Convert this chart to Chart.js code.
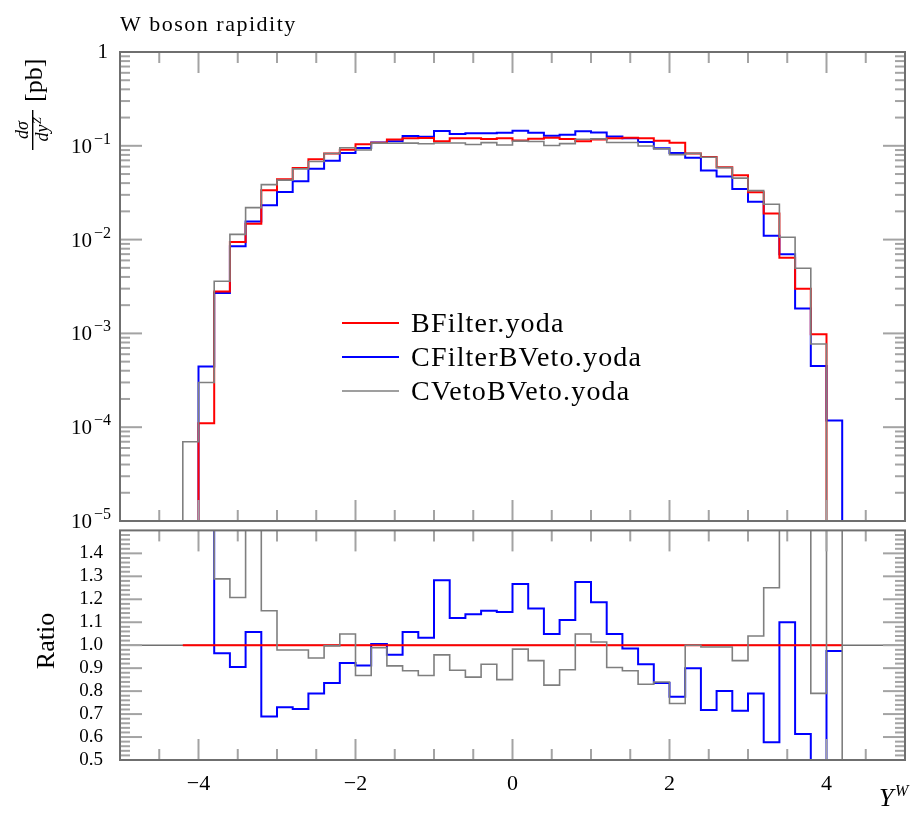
<!DOCTYPE html>
<html>
<head>
<meta charset="utf-8">
<script src="https://cdn.jsdelivr.net/npm/chart.js@4.4.0/dist/chart.umd.min.js"></script>
<style>
  html, body { margin: 0; padding: 0; background: #fff; }
  #wrap { position: relative; width: 912px; height: 814px; }
  #topBox { position: absolute; left: 0; top: 0; width: 912px; height: 535px; }
  #ratioBox { position: absolute; left: 0; top: 510px; width: 912px; height: 304px; }
</style>
</head>
<body>
<div id="wrap">
  <div id="topBox"><canvas id="topChart"></canvas></div>
  <div id="ratioBox"><canvas id="ratioChart"></canvas></div>
</div>
<script>
// ---- data (bins of 0.2 in rapidity) ----
const binEdges = [-4.4, -4.2, -4.0, -3.8, -3.6, -3.4, -3.2, -3.0, -2.8, -2.6, -2.4, -2.2, -2.0, -1.8, -1.6, -1.4,
  -1.2, -1.0, -0.8, -0.6, -0.4, -0.2, 0.0, 0.2, 0.4, 0.6, 0.8, 1.0, 1.2, 1.4, 1.6, 1.8, 2.0, 2.2, 2.4, 2.6,
  2.8, 3.0, 3.2, 3.4, 3.6, 3.8, 4.0, 4.2, 4.4];

const seriesNames = ['BFilter.yoda', 'CFilterBVeto.yoda', 'CVetoBVeto.yoda'];

// dsigma/dy [pb]
const bFilter = [0, 0, 1.1e-4, 2.8e-3, 9.4e-3, 0.0148, 0.0336, 0.044, 0.058, 0.072, 0.083, 0.091, 0.104, 0.108,
  0.117, 0.12, 0.121, 0.112, 0.12, 0.12, 0.118, 0.12, 0.114, 0.119, 0.122, 0.118, 0.112, 0.117, 0.12, 0.122,
  0.12, 0.113, 0.108, 0.083, 0.076, 0.059, 0.0485, 0.032, 0.019, 0.0064, 0.0030, 9.8e-4, 0, 0];
const cFilterBVeto = [0, 0, 4.45e-4, 2.7e-3, 8.5e-3, 0.0156, 0.0232, 0.0321, 0.0419, 0.0569, 0.0693, 0.0839,
  0.0948, 0.1085, 0.112, 0.127, 0.125, 0.1437, 0.134, 0.136, 0.1357, 0.1374, 0.1444, 0.138, 0.128, 0.131,
  0.1428, 0.1389, 0.1259, 0.1203, 0.110, 0.0944, 0.0837, 0.0747, 0.0546, 0.0472, 0.0346, 0.0253, 0.011,
  0.0070, 0.00184, 4.5e-4, 1.18e-4, 0];
const cVetoBVeto = [0, 7.0e-5, 3.0e-4, 3.6e-3, 0.01136, 0.0219, 0.0386, 0.0431, 0.0568, 0.068, 0.0828, 0.0955,
  0.0903, 0.1068, 0.1065, 0.1067, 0.105, 0.1073, 0.107, 0.1033, 0.1082, 0.102, 0.1121, 0.111, 0.1008, 0.1054,
  0.1175, 0.1186, 0.1084, 0.1085, 0.0996, 0.0927, 0.0806, 0.083, 0.0754, 0.0585, 0.0452, 0.0333, 0.0238,
  0.0106, 0.00495, 7.7e-4, 0, 0];

// ratio to BFilter
const ratioBFilter = [null, 1, 1, 1, 1, 1, 1, 1, 1, 1, 1, 1, 1, 1, 1, 1, 1, 1, 1, 1, 1, 1, 1, 1, 1, 1, 1, 1,
  1, 1, 1, 1, 1, 1, 1, 1, 1, 1, 1, 1, 1, 1, 1, null];
const ratioCFilterBVeto = [null, null, 4.0, 0.965, 0.905, 1.058, 0.69, 0.73, 0.722, 0.79, 0.835, 0.922, 0.912,
  1.005, 0.958, 1.058, 1.032, 1.283, 1.118, 1.135, 1.15, 1.145, 1.267, 1.16, 1.049, 1.11, 1.275, 1.187, 1.049,
  0.986, 0.917, 0.835, 0.775, 0.9, 0.718, 0.8, 0.714, 0.79, 0.577, 1.1, 0.613, 0.46, 0.975, null];
const ratioCVetoBVeto = [null, null, 2.7, 1.289, 1.208, 1.55, 1.15, 0.979, 0.979, 0.944, 0.997, 1.049, 0.868,
  0.989, 0.91, 0.889, 0.868, 0.958, 0.891, 0.861, 0.917, 0.85, 0.983, 0.933, 0.826, 0.893, 1.049, 1.014, 0.903,
  0.889, 0.83, 0.84, 0.746, 1.0, 0.992, 0.992, 0.933, 1.04, 1.25, 1.65, 1.65, 0.79, 2.0, 0];

const xTicks = [-4, -2, 0, 2, 4];
const logTicks = [1e-5, 1e-4, 1e-3, 1e-2, 1e-1, 1];
const ratioTicks = [0.5, 0.6, 0.7, 0.8, 0.9, 1.0, 1.1, 1.2, 1.3, 1.4];

// ---- styling ----
const SERIF = '"Liberation Serif", "DejaVu Serif", serif';
const lineColors = ['#ff0000', '#0000ff', '#7f7f7f'];
const lineWidths = [2, 2, 1.6];
const drawOrder = [2, 3, 1]; // gray on top, blue below red
const LOG_FLOOR = 1e-9;

// histogram -> step points (horizontal first, then vertical at next edge)
function histPoints(values, floor) {
  const pts = [];
  values.forEach((v, i) => {
    if (v === null) return;
    const y = (floor !== undefined && v <= 0) ? floor : v;
    pts.push({ x: binEdges[i], y: y });
    if (i === values.length - 1 || values[i + 1] === null) {
      pts.push({ x: binEdges[i + 1], y: y });
      pts.push({ x: binEdges[i + 1], y: null });
    }
  });
  return pts;
}

function makeDatasets(seriesList, floor) {
  return seriesList.map((vals, k) => ({
    label: seriesNames[k],
    data: histPoints(vals, floor),
    borderColor: lineColors[k],
    borderWidth: lineWidths[k],
    pointRadius: 0,
    stepped: 'before',
    fill: false,
    order: drawOrder[k]
  }));
}

function minusSign(v) {
  return v < 0 ? '\u2212' + Math.abs(v) : String(v);
}

// Rivet-like frame with inward ticks on all four sides
const rivetFrame = {
  id: 'rivetFrame',
  beforeDatasetsDraw(chart, args, opts) {
    if (!opts.unityLine) return;
    const { ctx, chartArea: a } = chart;
    const yy = chart.scales.y.getPixelForValue(1);
    ctx.save();
    ctx.strokeStyle = '#707070';
    ctx.lineWidth = 1.5;
    ctx.beginPath();
    ctx.moveTo(a.left, yy);
    ctx.lineTo(a.right, yy);
    ctx.stroke();
    ctx.restore();
  },
  afterDatasetsDraw(chart, args, opts) {
    const { ctx, chartArea: a } = chart;
    const xs = chart.scales.x, ys = chart.scales.y;
    ctx.save();
    ctx.strokeStyle = '#a3a3a3';
    ctx.lineWidth = 2;
    const seg = (x1, y1, x2, y2) => { ctx.beginPath(); ctx.moveTo(x1, y1); ctx.lineTo(x2, y2); ctx.stroke(); };
    const xTick = (v, len) => {
      const px = xs.getPixelForValue(v);
      seg(px, a.bottom, px, a.bottom - len);
      seg(px, a.top, px, a.top + len);
    };
    const yTick = (v, len) => {
      const py = ys.getPixelForValue(v);
      seg(a.left, py, a.left + len, py);
      seg(a.right, py, a.right - len, py);
    };
    opts.xMinor.forEach(v => xTick(v, 11));
    opts.xMajor.forEach(v => xTick(v, 21));
    opts.yMinor.forEach(v => yTick(v, 10));
    opts.yMajor.forEach(v => yTick(v, 22));
    ctx.strokeStyle = '#6f6f6f';
    ctx.lineWidth = 2;
    ctx.strokeRect(a.left, a.top, a.right - a.left, a.bottom - a.top);
    ctx.restore();
  }
};

const xMinorTicks = [-4.5, -3.5, -3, -2.5, -1.5, -1, -0.5, 0.5, 1, 1.5, 2.5, 3, 3.5, 4.5];
const logMinorTicks = [];
logTicks.slice(0, -1).forEach(d => { for (let m = 2; m <= 9; m++) logMinorTicks.push(m * d); });
const ratioMinorTicks = [];
for (let k = 1; k < 50; k++) { if (k % 5 !== 0) ratioMinorTicks.push(0.5 + k * 0.02); }

// texts of the main panel: title, legend, log labels, y title
const topTexts = {
  id: 'topTexts',
  afterDraw(chart) {
    const { ctx } = chart;
    const ys = chart.scales.y;
    ctx.save();
    ctx.fillStyle = '#000';
    ctx.textBaseline = 'alphabetic';

    ctx.font = '22px ' + SERIF;
    ctx.letterSpacing = '1.5px';
    ctx.textAlign = 'left';
    ctx.fillText('W boson rapidity', 120, 31);
    ctx.letterSpacing = '0px';

    // log tick labels 10^n
    logTicks.forEach(v => {
      const py = ys.getPixelForValue(v);
      const right = 111;
      if (v === 1) {
        ctx.font = '21px ' + SERIF;
        ctx.textAlign = 'right';
        ctx.fillText('1', right - 3, py + 6);
        return;
      }
      const exp = '\u2212' + Math.round(-Math.log10(v));
      ctx.font = '16px ' + SERIF;
      const ew = ctx.measureText(exp).width;
      ctx.textAlign = 'left';
      ctx.fillText(exp, right - ew, py - 2);
      ctx.font = '21px ' + SERIF;
      ctx.textAlign = 'right';
      ctx.fillText('10', right - ew - 2, py + 7);
    });

    // legend
    const legendY = [323, 357, 391];
    seriesNames.forEach((name, k) => {
      ctx.strokeStyle = lineColors[k];
      ctx.lineWidth = lineWidths[k];
      ctx.beginPath();
      ctx.moveTo(342, legendY[k]);
      ctx.lineTo(399, legendY[k]);
      ctx.stroke();
      ctx.font = '28px ' + SERIF;
      ctx.letterSpacing = '1.2px';
      ctx.textAlign = 'left';
      ctx.fillText(name, 411, legendY[k] + 9);
      ctx.letterSpacing = '0px';
    });

    // y title: dsigma / dy^Z [pb], rotated
    ctx.translate(33, 152);
    ctx.rotate(-Math.PI / 2);
    ctx.textAlign = 'center';
    ctx.font = 'italic 18px ' + SERIF;
    ctx.fillText('d\u03c3', 22, -5);
    ctx.fillText('dy', 19, 15);
    ctx.textAlign = 'left';
    ctx.font = 'italic 12px ' + SERIF;
    ctx.fillText('Z', 28, 8);
    ctx.fillRect(2, -1, 40, 1.4);
    ctx.font = '26px ' + SERIF;
    ctx.fillText('[pb]', 50, 9);
    ctx.restore();
  }
};

const ratioTexts = {
  id: 'ratioTexts',
  afterDraw(chart) {
    const { ctx } = chart;
    ctx.save();
    ctx.fillStyle = '#000';
    ctx.font = 'italic 26px ' + SERIF;
    ctx.textAlign = 'left';
    ctx.fillText('Y', 879, 296);
    ctx.font = 'italic 16px ' + SERIF;
    ctx.fillText('W', 895, 286);
    ctx.translate(54, 131);
    ctx.rotate(-Math.PI / 2);
    ctx.textAlign = 'center';
    ctx.font = '26px ' + SERIF;
    ctx.fillText('Ratio', 0, 0);
    ctx.restore();
  }
};

const topChart = new Chart(document.getElementById('topChart'), {
  type: 'line',
  data: { datasets: makeDatasets([bFilter, cFilterBVeto, cVetoBVeto], LOG_FLOOR) },
  options: {
    responsive: true,
    maintainAspectRatio: false,
    animation: false,
    layout: { padding: { left: 0, right: 7, top: 52, bottom: 14 } },
    plugins: {
      legend: { display: false },
      tooltip: { enabled: false },
      rivetFrame: { xMajor: xTicks, xMinor: xMinorTicks, yMajor: logTicks, yMinor: logMinorTicks }
    },
    scales: {
      x: { type: 'linear', min: -5, max: 5, display: false },
      y: {
        type: 'logarithmic',
        min: 1e-5,
        max: 1,
        afterFit: s => { s.width = 120; },
        grid: { display: false },
        border: { display: false },
        ticks: { display: false }
      }
    }
  },
  plugins: [rivetFrame, topTexts]
});

const ratioChart = new Chart(document.getElementById('ratioChart'), {
  type: 'line',
  data: { datasets: makeDatasets([ratioBFilter, ratioCFilterBVeto, ratioCVetoBVeto]) },
  options: {
    responsive: true,
    maintainAspectRatio: false,
    animation: false,
    layout: { padding: { left: 0, right: 7, top: 11, bottom: 0 } },
    plugins: {
      legend: { display: false },
      tooltip: { enabled: false },
      rivetFrame: { xMajor: xTicks, xMinor: xMinorTicks, yMajor: ratioTicks, yMinor: ratioMinorTicks, unityLine: true }
    },
    scales: {
      x: {
        type: 'linear',
        min: -5,
        max: 5,
        afterFit: s => { s.height = 54; },
        afterBuildTicks: s => { s.ticks = xTicks.map(v => ({ value: v })); },
        grid: { display: false },
        border: { display: false },
        ticks: { callback: v => minusSign(v), color: '#000', font: { family: SERIF, size: 22 }, padding: 3, maxRotation: 0 }
      },
      y: {
        type: 'linear',
        min: 0.5,
        max: 1.5,
        afterFit: s => { s.width = 120; },
        afterBuildTicks: s => { s.ticks = ratioTicks.map(v => ({ value: v })); },
        grid: { display: false },
        border: { display: false },
        ticks: { callback: v => v.toFixed(1), autoSkip: false, color: '#000', font: { family: SERIF, size: 19 }, padding: 9 }
      }
    }
  },
  plugins: [rivetFrame, ratioTexts]
});
</script>
</body>
</html>
